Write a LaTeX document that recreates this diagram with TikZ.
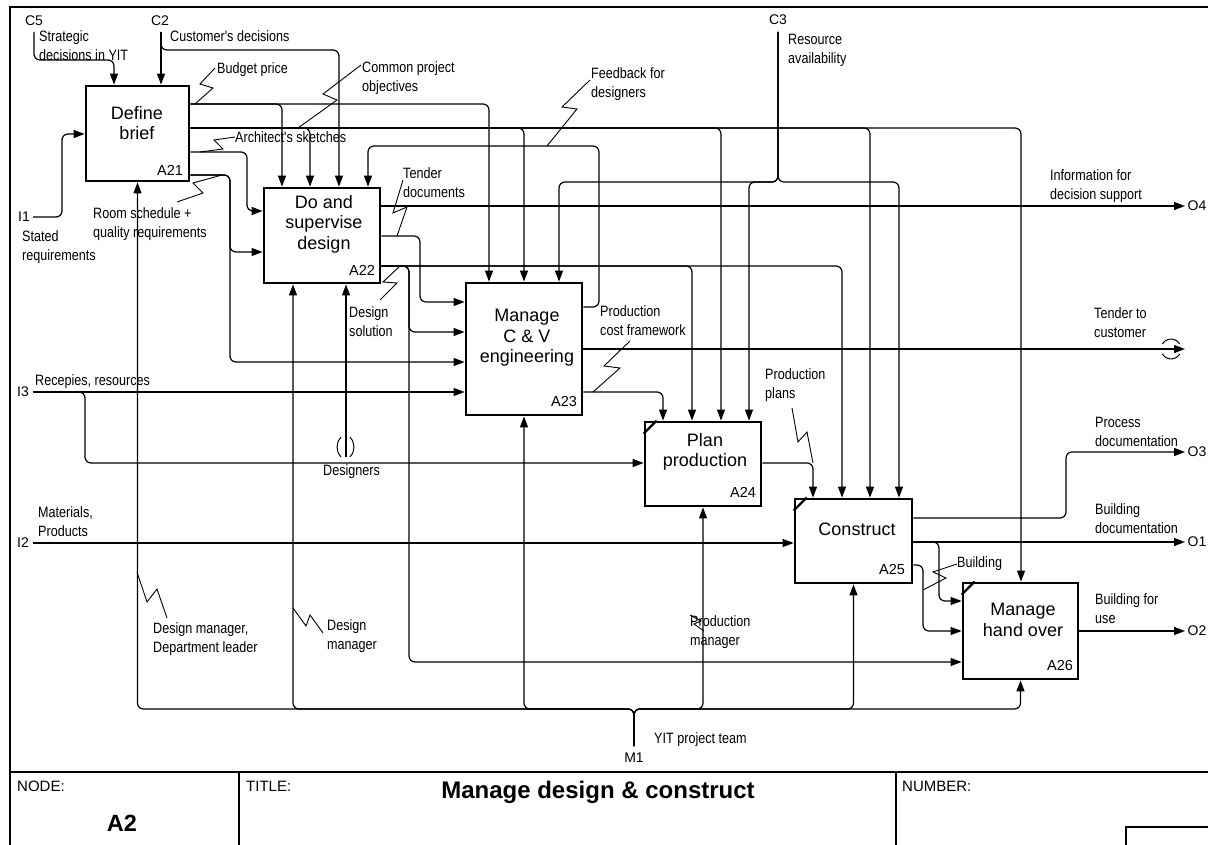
\documentclass[tikz,border=0pt]{standalone}
\usepackage{fontspec}
\setmainfont{Liberation Sans}
\newfontfamily\narrowfont[FakeStretch=0.84]{Liberation Sans}
\usetikzlibrary{arrows.meta}
\begin{document}
\begin{tikzpicture}[x=1pt,y=-1pt,
  conn/.style={line width=1.2pt, rounded corners=6pt},
  arr/.style={conn, -{Triangle[length=11pt,width=8pt]}},
  box/.style={draw, line width=2.8pt, inner sep=0pt},
  ttl/.style={font=\fontsize{18}{20.5}\selectfont, align=center, inner sep=0pt},
  bid/.style={font=\fontsize{14.5}{16}\selectfont, inner sep=0pt},
  lbl/.style={font=\narrowfont\fontsize{15}{19}\selectfont, align=left, anchor=west, inner sep=0pt},
  io/.style={font=\fontsize{14}{16}\selectfont, inner sep=0pt},
  tb/.style={font=\fontsize{15}{17}\selectfont, inner sep=0pt, anchor=west},
  sq/.style={line width=0.9pt},
  frame/.style={line width=1.3pt},
  cornermark/.style={line width=2.2pt},
]
\fill[white] (0,0) rectangle (1208,845);
\useasboundingbox (0,0) rectangle (1208,845);

% frame and title block
\draw[frame] (10,845) -- (10,7) -- (1208,7);
\draw[frame] (10,772) -- (1208,772);
\draw[frame] (239,772) -- (239,845);
\draw[frame] (896,772) -- (896,845);
\draw[frame] (1126,845) -- (1126,827) -- (1208,827);
\node[tb] (nodelbl) at (17,786) {NODE:};
\node[font=\bfseries\fontsize{23.5}{26}\selectfont, inner sep=0pt] (nodeid) at (122,823) {A2};
\node[tb] (titlelbl) at (246,786) {TITLE:};
\node[font=\bfseries\fontsize{24}{26}\selectfont, inner sep=0pt] (title) at (598,792) {Manage design \& construct};
\node[tb] (numlbl) at (902,786) {NUMBER:};

% boxes
\node[box, minimum width=103pt, minimum height=95pt] (a21) at (137.5,133.5) {};
\node[box, minimum width=116pt, minimum height=95pt] (a22) at (322,235.5) {};
\node[box, minimum width=116pt, minimum height=132pt] (a23) at (524,349) {};
\node[box, minimum width=116pt, minimum height=84pt] (a24) at (703,464) {};
\node[box, minimum width=117pt, minimum height=84pt] (a25) at (853.5,541) {};
\node[box, minimum width=115pt, minimum height=96pt] (a26) at (1020.5,631) {};
\draw[cornermark] ([yshift=-13pt]a24.north west) -- ([xshift=13pt]a24.north west);
\draw[cornermark] ([yshift=-13pt]a25.north west) -- ([xshift=13pt]a25.north west);
\draw[cornermark] ([yshift=-13pt]a26.north west) -- ([xshift=13pt]a26.north west);

\node[ttl] (t21) at (137,123) {Define\\brief};
\node[ttl] (t22) at (324,224) {Do and\\supervise\\design};
\node[ttl] (t23) at (527,338) {Manage\\C \& V\\engineering};
\node[ttl] (t24) at (705,452) {Plan\\production};
\node[ttl] (t25) at (857,529) {Construct};
\node[ttl] (t26) at (1023,620) {Manage\\hand over};
\node[bid] (id21) at (170,170) {A21};
\node[bid] (id22) at (362,270) {A22};
\node[bid] (id23) at (564,402) {A23};
\node[bid] (id24) at (743,492) {A24};
\node[bid] (id25) at (892,570) {A25};
\node[bid] (id26) at (1060,666) {A26};

% boundary labels
\node[io] (c5) at (34,21) {C5};
\node[io] (c2) at (160,21) {C2};
\node[io] (c3) at (778,20) {C3};
\node[io] (i1) at (24,217) {I1};
\node[io] (i3) at (23,392) {I3};
\node[io] (i2) at (23,543) {I2};
\node[io] (o4) at (1197,206) {O4};
\node[io] (o3) at (1197,452) {O3};
\node[io] (o1) at (1197,542) {O1};
\node[io] (o2) at (1197,631) {O2};
\node[io] (m1) at (634,758) {M1};
\coordinate (c5s) at (34,32);
\coordinate (c2s) at (161,32);
\coordinate (c3s) at (778,32);
\coordinate (i1s) at (33,217);
\coordinate (i3s) at (33,392);
\coordinate (i2s) at (33,543);
\coordinate (o4s) at (1185,206);
\coordinate (o3s) at (1185,452);
\coordinate (o1s) at (1185,542);
\coordinate (o2s) at (1185,631);
\coordinate (tcs) at (1185,349);
\coordinate (m1s) at (634,746);
\coordinate (des) at (346,457);

% arrow labels
\node[lbl] (lstrat) at (39,45.5) {Strategic\\decisions in YIT};
\node[lbl] (lcust) at (170,36) {Customer's decisions};
\node[lbl] (lbudget) at (217,70) {Budget price};
\node[lbl] (lcommon) at (362,78.5) {Common project\\objectives};
\node[lbl] (lfeed) at (591,84.5) {Feedback for\\designers};
\node[lbl] (lres) at (788,50) {Resource\\availability};
\node[lbl] (larch) at (235,137) {Architect's sketches};
\node[lbl] (ltender) at (403,182.5) {Tender\\documents};
\node[lbl] (linfo) at (1050,186) {Information for\\decision support};
\node[lbl] (lroom) at (93,224.5) {Room schedule +\\quality requirements};
\node[lbl] (lstated) at (22,247.5) {Stated\\requirements};
\node[lbl] (ldsol) at (349,322) {Design\\solution};
\node[lbl] (lpcf) at (600,321) {Production\\cost framework};
\node[lbl] (ltcust) at (1094,322.5) {Tender to\\customer};
\node[lbl] (lrecep) at (35,382) {Recepies, resources};
\node[lbl] (lpplans) at (765,385.5) {Production\\plans};
\node[lbl] (lprocdoc) at (1095,431.5) {Process\\documentation};
\node[lbl] (ldesigners) at (323,472) {Designers};
\node[lbl] (lmat) at (38,521.5) {Materials,\\Products};
\node[lbl] (lbuilddoc) at (1095,519) {Building\\documentation};
\node[lbl] (lbuilding) at (957,564) {Building};
\node[lbl] (lbuse) at (1095,609) {Building for\\use};
\node[lbl] (ldm1) at (153,639) {Design manager,\\Department leader};
\node[lbl] (ldm2) at (327,636) {Design\\manager};
\node[lbl] (lpm) at (690,632.5) {Production\\manager};
\node[lbl] (lteam) at (654,740) {YIT project team};

% controls
\draw[arr] (c5s) |- (114,60) -- (a21.north -| 114,0);
\draw[arr] (c2s) -- (a21.north -| c2s);
\draw[arr] (c2s) |- (339,50) -- (a22.north -| 339,0);
\draw[arr] (c3s) |- (559,182) -- (a23.north -| 559,0);
\draw[arr] (c3s) |- (749,182) -- (a24.north -| 749,0);
\draw[arr] (c3s) |- (899,182) -- (a25.north -| 899,0);

% A21 outputs
\draw[arr] (a21.east |- 0,104) -| (a22.north -| 282,0);
\draw[arr] (a21.east |- 0,104) -| (a23.north -| 489,0);
\draw[arr] (a21.east |- 0,128) -| (a22.north -| 310,0);
\draw[arr] (a21.east |- 0,128) -| (a23.north -| 524,0);
\draw[arr] (a21.east |- 0,128) -| (a24.north -| 721,0);
\draw[arr] (a21.east |- 0,128) -| (a25.north -| 870,0);
\draw[arr] (a21.east |- 0,128) -| (a26.north -| 1021,0);
\draw[arr] (a21.east |- 0,152) -| (247,211) -- (a22.west |- 0,211);
\draw[arr] (a21.east |- 0,175) -| (230,252) -- (a22.west |- 0,252);
\draw[arr] (a21.east |- 0,175) -| (230,362) -- (a23.west |- 0,362);

% inputs
\draw[arr] (i1s) -| (62,134) -- (a21.west |- 0,134);
\draw[arr] (i3s) -- (a23.west |- 0,392);
\draw[arr] (i3s) -| (85,463) -- (a24.west |- 0,463);
\draw[arr] (i2s) -- (a25.west |- 0,543);

% A22 outputs
\draw[arr] (a22.east |- 0,206) -- (o4s);
\draw[arr] (a22.east |- 0,236) -| (420,302) -- (a23.west |- 0,302);
\draw[arr] (a22.east |- 0,266) -| (409,332) -- (a23.west |- 0,332);
\draw[arr] (a22.east |- 0,266) -| (409,662) -- (a26.west |- 0,662);
\draw[arr] (a22.east |- 0,266) -| (a24.north -| 692,0);
\draw[arr] (a22.east |- 0,266) -| (a25.north -| 842,0);

% A23 outputs
\draw[arr] (a23.east |- 0,307) -| (599,146) -| (a22.north -| 368,0);
\draw[arr] (a23.east |- 0,349) -- (tcs);
\draw[arr] (a23.east |- 0,392) -| (a24.north -| 663,0);
\draw[line width=1pt] (1162.3,344) arc[start angle=150, end angle=30, radius=10pt];
\draw[line width=1pt] (1162.3,354) arc[start angle=210, end angle=330, radius=10pt];

% A24, A25, A26 outputs
\draw[arr] (a24.east |- 0,463) -| (a25.north -| 813,0);
\draw[arr] (a25.east |- 0,518) -| (1066,452) -- (o3s);
\draw[arr] (a25.east |- 0,542) -- (o1s);
\draw[arr] (a25.east |- 0,542) -| (939,601) -- (a26.west |- 0,601);
\draw[arr] (a25.east |- 0,565) -| (923,631) -- (a26.west |- 0,631);
\draw[arr] (a26.east |- 0,631) -- (o2s);

% mechanisms
\draw[arr] (m1s) |- (137.5,709) -- (a21.south);
\draw[arr] (m1s) |- (293,709) -- (a22.south -| 293,0);
\draw[arr] (m1s) |- (524,709) -- (a23.south);
\draw[arr] (m1s) |- (703,709) -- (a24.south);
\draw[arr] (m1s) |- (853.5,709) -- (a25.south);
\draw[arr] (m1s) |- (1020.5,709) -- (a26.south);
\draw[arr] (des) -- (a22.south -| des);
\draw[line width=1pt] (341.1,437.1) arc[start angle=135, end angle=225, radius=14pt];
\draw[line width=1pt] (349.9,437.1) arc[start angle=45, end angle=-45, radius=14pt];

% squiggles
\draw[sq] (215,68) -- (200,84) -- (213,88) -- (195,104);
\draw[sq] (361,65) -- (323,94) -- (337,100) -- (298,128);
\draw[sq] (590,80) -- (562,107) -- (577,109) -- (547,146);
\draw[sq] (larch.west) -- (214,140) -- (223,149) -- (200,152);
\draw[sq] (177,202) -- (203,193) -- (193,183) -- (222,175);
\draw[sq] (403,180) -- (393,213) -- (407,207) -- (397,236);
\draw[sq] (380,300) -- (397,283) -- (383,282) -- (400,266);
\draw[sq] (630,341) -- (604,366) -- (620,368) -- (593,392);
\draw[sq] (792,408) -- (798,442) -- (807,432) -- (813,463);
\draw[sq] (lbuilding.west) -- (933,572) -- (946,578) -- (923,590);
\draw[sq] (137,572) -- (147,602) -- (157,589) -- (167,618);
\draw[sq] (293,608) -- (306,626) -- (310,615) -- (323,633);
\draw[sq] (690,615) -- (701,621) -- (694,624) -- (704,631);
\end{tikzpicture}
\end{document}
